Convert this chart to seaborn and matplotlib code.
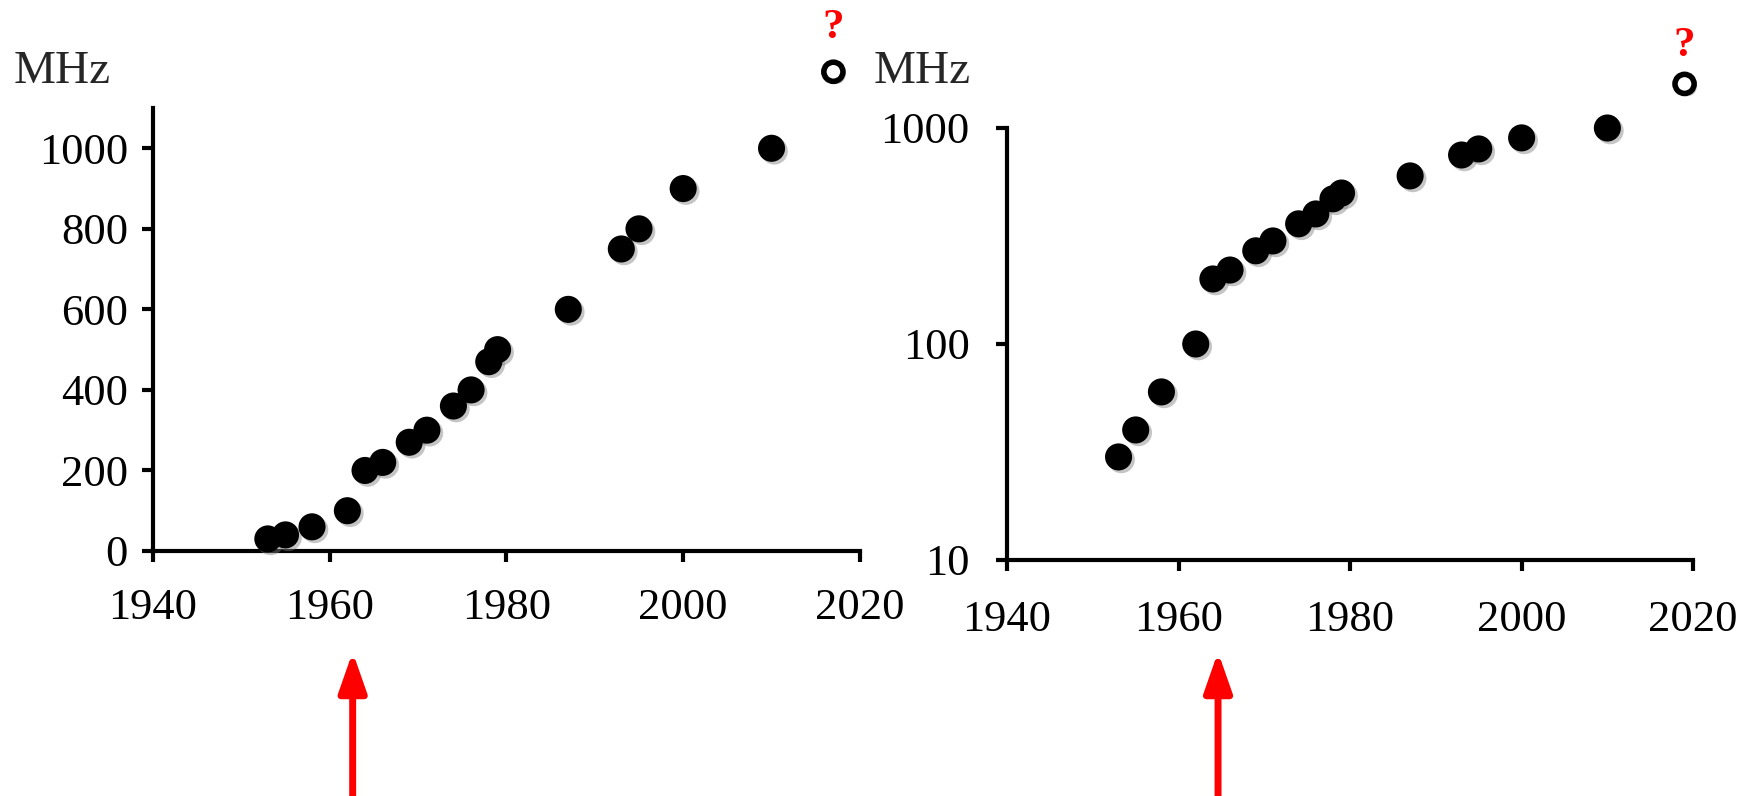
import matplotlib
matplotlib.use("Agg")
import matplotlib.pyplot as plt
import matplotlib.patheffects as pe
from matplotlib.ticker import NullLocator
import seaborn as sns
import pandas as pd

# clock speed over the years
years = [1953, 1955, 1958, 1962, 1964, 1966, 1969, 1971, 1974, 1976, 1978, 1979,
         1987, 1993, 1995, 2000, 2010]
mhz = [30, 40, 60, 100, 200, 220, 270, 300, 360, 400, 470, 500,
       600, 750, 800, 900, 1000]

# the "?" guess point, placed a little differently on each panel
guess_lin = (2017, 1190)
guess_log = (2019, 1600)

arrow_years = [1962.6, 1964.6]

x_ticks = [1940, 1960, 1980, 2000, 2020]
lin_ticks = [0, 200, 400, 600, 800, 1000]
log_ticks = [10, 100, 1000]

sns.set_style("ticks")
plt.rcParams["font.family"] = ["Liberation Serif", "DejaVu Serif"]

df = pd.DataFrame({"year": years, "mhz": mhz})

fig = plt.figure(figsize=(17.56, 7.96), dpi=100)
ax1 = fig.add_axes([0.0871, 0.3078, 0.4026, 0.5565])
ax2 = fig.add_axes([0.5735, 0.2965, 0.3907, 0.5427])

shadow = [pe.SimplePatchShadow(offset=(2, -2), shadow_rgbFace="gray", alpha=0.45), pe.Normal()]

for ax, guess in [(ax1, guess_lin), (ax2, guess_log)]:
    sns.scatterplot(data=df, x="year", y="mhz", ax=ax, s=380, color="black",
                    edgecolor="none", legend=False, path_effects=shadow,
                    clip_on=False, zorder=4)
    ax.scatter([guess[0]], [guess[1]], s=190, facecolors="white", edgecolors="black",
               linewidths=4, clip_on=False, zorder=5, path_effects=shadow)
    ax.set_xlim(1940, 2020)
    ax.set_xticks(x_ticks)
    ax.set_xlabel("")
    ax.set_ylabel("")
    for s in ["top", "right"]:
        ax.spines[s].set_visible(False)
    for s in ["left", "bottom"]:
        ax.spines[s].set_linewidth(3)
        ax.spines[s].set_color("black")
    ax.tick_params(axis="both", width=3, length=8, labelsize=32, color="black",
                   labelcolor="black")

ax1.set_ylim(0, 1100)
ax1.set_yticks(lin_ticks)
ax1.tick_params(axis="x", pad=19)
ax1.tick_params(axis="y", pad=10)

ax2.set_yscale("log")
ax2.set_ylim(10, 1000)
ax2.set_yticks(log_ticks, labels=[str(t) for t in log_ticks])
ax2.yaxis.set_minor_locator(NullLocator())
ax2.tick_params(axis="x", pad=21)
ax2.tick_params(axis="y", pad=19)

# question marks over the guess points
ax1.annotate("?", xy=guess_lin, xytext=(0, 24), textcoords="offset points",
             ha="center", va="baseline", color="red", fontsize=31, fontweight="bold",
             annotation_clip=False)
ax2.annotate("?", xy=guess_log, xytext=(0, 20), textcoords="offset points",
             ha="center", va="baseline", color="red", fontsize=31, fontweight="bold",
             annotation_clip=False)

fig.text(0.008, 0.8957, "MHz", fontsize=34, va="baseline")
fig.text(0.4977, 0.8957, "MHz", fontsize=34, va="baseline")

# red arrows under the x axes
for ax, yr in zip([ax1, ax2], arrow_years):
    ax.annotate("", xy=(yr, 0.181), xycoords=("data", "figure fraction"),
                xytext=(yr, -0.02), textcoords=("data", "figure fraction"),
                arrowprops=dict(arrowstyle="-|>,head_length=1.2,head_width=0.42",
                                color="red", lw=5, mutation_scale=20,
                                shrinkA=0, shrinkB=0),
                annotation_clip=False)

fig.savefig("out.png", dpi=100, facecolor="white")
